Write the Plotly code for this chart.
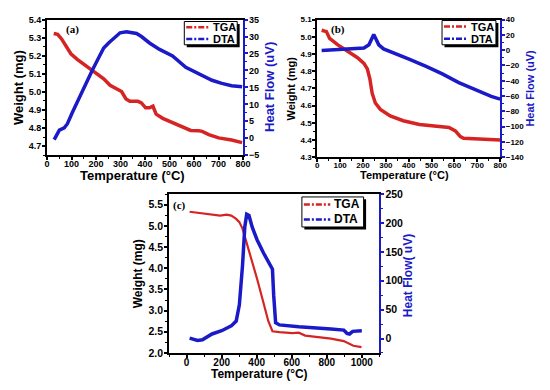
import plotly.graph_objects as go

# ---------------- data ----------------
# Panel (a)
a_tga_T = [27, 43, 59, 76, 97, 123, 150, 177, 204, 231, 257, 284, 304, 322, 338, 371, 385, 402, 418, 432, 445, 472, 512, 552, 586, 619, 633, 660, 700, 753, 796]
a_tga_W = [5.323, 5.318, 5.293, 5.252, 5.211, 5.18, 5.154, 5.127, 5.10, 5.073, 5.037, 5.014, 5.002, 4.961, 4.948, 4.948, 4.939, 4.912, 4.912, 4.921, 4.877, 4.854, 4.832, 4.81, 4.787, 4.785, 4.782, 4.764, 4.746, 4.734, 4.72]
a_dta_T = [29, 40, 50, 70, 83, 103, 130, 157, 184, 211, 231, 251, 271, 298, 324, 365, 385, 418, 459, 512, 566, 619, 673, 713, 753, 796]
a_dta_V = [-0.4, 1.2, 2.4, 3.1, 4.3, 7.6, 11.9, 16.2, 20.0, 23.8, 26.6, 28.1, 29.5, 31.1, 31.4, 30.9, 30.0, 28.1, 26.2, 24.3, 20.9, 19.0, 17.1, 16.2, 15.5, 15.2]

# Panel (b)
b_tga_T = [19, 40, 54, 90, 133, 176, 204, 219, 230, 240, 254, 276, 319, 376, 447, 519, 576, 604, 626, 640, 700, 800]
b_tga_W = [5.038, 5.03, 4.99, 4.953, 4.916, 4.878, 4.845, 4.813, 4.756, 4.672, 4.615, 4.578, 4.54, 4.512, 4.49, 4.48, 4.473, 4.453, 4.42, 4.41, 4.405, 4.40]
b_dta_T = [19, 119, 204, 226, 240, 247, 254, 269, 290, 347, 404, 476, 547, 619, 690, 761, 800]
b_dta_V = [-0.6, 1.5, 2.8, 7, 15.5, 20.6, 16.3, 7, 1.6, -4.8, -12, -21.3, -31, -42.4, -52, -60.5, -64]

# Panel (c)
c_tga_T = [17, 90, 145, 191, 228, 255, 283, 301, 319, 338, 365, 402, 439, 466, 490, 530, 604, 640, 677, 750, 824, 897, 925, 952, 998]
c_tga_W = [5.332, 5.294, 5.278, 5.24, 5.263, 5.24, 5.164, 5.087, 4.935, 4.667, 4.285, 3.75, 3.178, 2.756, 2.513, 2.49, 2.467, 2.48, 2.41, 2.375, 2.34, 2.28, 2.22, 2.17, 2.14]
c_dta_T = [17, 62, 90, 145, 200, 255, 283, 301, 319, 332, 343, 356, 374, 402, 439, 466, 490, 497, 508, 530, 640, 824, 897, 915, 930, 948, 1000]
c_dta_V = [0.6, -3.4, -2.2, 7.9, 13.5, 21.9, 30.3, 58.4, 126, 193, 215, 213, 193, 171, 148, 134, 120, 75, 27.5, 23.6, 20.2, 16.3, 14.6, 9, 7.9, 12.4, 13.5]

series_names = ["TGA", "DTA"]

RED = "#d62424"
BLUE = "#1a1ac8"
FONT = "Liberation Sans, Arial, sans-serif"
SERIF = "Liberation Serif, Times New Roman, serif"
LEG_DASH = "6px,2px,2px,2px"
W, H = 550, 390

fig = go.Figure()


def add_line(T, V, xa, ya, color, width, name):
    fig.add_trace(go.Scatter(x=T, y=V, xaxis=xa, yaxis=ya, mode="lines", name=name,
                             line=dict(color=color, width=width),
                             showlegend=False, hoverinfo="skip"))


add_line(a_tga_T, a_tga_W, "x", "y", RED, 3.5, "TGA")
add_line(a_dta_T, a_dta_V, "x", "y2", BLUE, 3.5, "DTA")
add_line(b_tga_T, b_tga_W, "x2", "y3", RED, 3.5, "TGA")
add_line(b_dta_T, b_dta_V, "x2", "y4", BLUE, 3.5, "DTA")
add_line(c_tga_T, c_tga_W, "x3", "y5", RED, 2.2, "TGA")
add_line(c_dta_T, c_dta_V, "x3", "y6", BLUE, 3.5, "DTA")


def xax(domain, anchor, rng, dtick, minor, fs):
    return dict(domain=domain, anchor=anchor, range=rng, dtick=dtick, tick0=0,
                showline=True, linecolor="black", linewidth=2, mirror=True,
                ticks="outside", ticklen=3, tickwidth=1.5, tickcolor="black",
                ticklabelstandoff=-4,
                minor=dict(dtick=minor, ticks="outside", ticklen=2, tickwidth=1, tickcolor="black"),
                tickfont=dict(family=FONT, size=fs, color="black", weight="bold"),
                showgrid=False, zeroline=False)


def yleft(domain, anchor, rng, dtick, minor, fs, fmt):
    return dict(domain=domain, anchor=anchor, range=rng, dtick=dtick, tick0=0,
                showline=True, linecolor="black", linewidth=2,
                ticks="outside", ticklen=3, tickwidth=1.5, tickcolor="black",
                ticklabelstandoff=-1,
                minor=dict(dtick=minor, ticks="outside", ticklen=2, tickwidth=1, tickcolor="black"),
                tickformat=fmt,
                tickfont=dict(family=FONT, size=fs, color="black", weight="bold"),
                showgrid=False, zeroline=False)


def yright(over, anchor, rng, dtick, minor, fs):
    return dict(overlaying=over, anchor=anchor, side="right", range=rng, dtick=dtick, tick0=0,
                showline=True, linecolor=BLUE, linewidth=2,
                ticks="outside", ticklen=3, tickwidth=1.5, tickcolor=BLUE,
                ticklabelstandoff=-1,
                minor=dict(dtick=minor, ticks="outside", ticklen=2, tickwidth=1, tickcolor=BLUE),
                tickfont=dict(family=FONT, size=fs, color="black", weight="bold"),
                showgrid=False, zeroline=False)


def px(x):
    return x / W


def py(y):
    return 1 - y / H


dom_ax = [px(45), px(245)]
dom_ay = [py(154), py(14)]
dom_bx = [px(320.7), px(507.3)]
dom_by = [py(156), py(14)]
dom_cx = [px(169.5), px(384)]
dom_cy = [py(358), py(194)]


def ann(text, x, y, size, color="black", angle=0, family=FONT, xanchor="center"):
    return dict(text="<b>" + text + "</b>", x=px(x), y=py(y), xref="paper", yref="paper",
                showarrow=False, textangle=angle, xanchor=xanchor, yanchor="middle",
                font=dict(family=family, size=size, color=color))


shapes = []
annotations = [
    ann("Weight (mg)", 16, 84, 13, angle=-90),
    ann("Heat Flow (uV)", 272, 84, 13, color=BLUE, angle=-90),
    ann("Temperature (°C)", 132, 175, 13),
    ann("Weight (mg)", 294, 85, 11, angle=-90),
    ann("Heat Flow (uV)", 538, 85, 11, color=BLUE, angle=-90),
    ann("Temperature (°C)", 410, 174, 11),
    ann("Weight (mg)", 137.5, 276, 12, angle=-90),
    ann("Heat Flow( uV)", 414, 278, 12, color=BLUE, angle=-90),
    ann("Temperature (°C)", 261.5, 380, 12),
    ann("(a)", 62, 24, 11, family=SERIF, xanchor="left"),
    ann("(b)", 333, 24, 11, family=SERIF, xanchor="left"),
    ann("(c)", 171, 206, 11, family=SERIF, xanchor="left"),
]


def legend_box(x0, y0, x1, y1, fs, line_frac):
    # shadow + white box
    shapes.append(dict(type="rect", xref="paper", yref="paper", layer="above",
                       x0=px(x0 + 2.5), x1=px(x1 + 2.5), y0=py(y1 + 2.5), y1=py(y0 + 2.5),
                       fillcolor="black", line=dict(width=0)))
    shapes.append(dict(type="rect", xref="paper", yref="paper", layer="above",
                       x0=px(x0), x1=px(x1), y0=py(y1), y1=py(y0),
                       fillcolor="white", line=dict(color="black", width=1)))
    h = (y1 - y0) / len(series_names)
    lx1 = x0 + line_frac * (x1 - x0)
    for i, (name, color) in enumerate(zip(series_names, [RED, BLUE])):
        yc = y0 + (i + 0.5) * h
        shapes.append(dict(type="line", xref="paper", yref="paper", layer="above",
                           x0=px(x0 + 2), x1=px(lx1), y0=py(yc), y1=py(yc),
                           line=dict(color=color, width=2.5, dash=LEG_DASH)))
        annotations.append(dict(text="<b>" + name + "</b>", x=px(lx1 + 1.5), y=py(yc),
                                xref="paper", yref="paper", showarrow=False,
                                xanchor="left", yanchor="middle",
                                font=dict(family=FONT, size=fs, color="black")))


legend_box(185, 16, 239, 40, 11, 0.48)
legend_box(448, 15, 503, 40, 11, 0.48)
legend_box(305, 197, 368, 228, 12, 0.46)

fig.update_layout(
    width=W, height=H,
    margin=dict(l=0, r=0, t=0, b=0),
    paper_bgcolor="white", plot_bgcolor="white",
    showlegend=False,
    xaxis=xax(dom_ax, "y", [0, 800], 100, 50, 9),
    yaxis=yleft(dom_ay, "x", [4.65, 5.4], 0.1, 0.05, 9, ".1f"),
    yaxis2=yright("y", "x", [-5, 35], 5, 2.5, 9),
    xaxis2=xax(dom_bx, "y3", [0, 800], 100, 50, 8),
    yaxis3=yleft(dom_by, "x2", [4.3, 5.1], 0.1, 0.05, 8, ".1f"),
    yaxis4=yright("y3", "x2", [-140, 40], 20, 10, 8),
    xaxis3=xax(dom_cx, "y5", [-100, 1100], 200, 100, 10),
    yaxis5=yleft(dom_cy, "x3", [2.0, 5.75], 0.5, 0.25, 10.5, ".1f"),
    yaxis6=yright("y5", "x3", [-25, 250], 50, 25, 10.5),
    shapes=shapes,
    annotations=annotations,
)

fig.write_html("out.html", config={"displayModeBar": False},
               post_script="document.body.style.margin='0px';")
